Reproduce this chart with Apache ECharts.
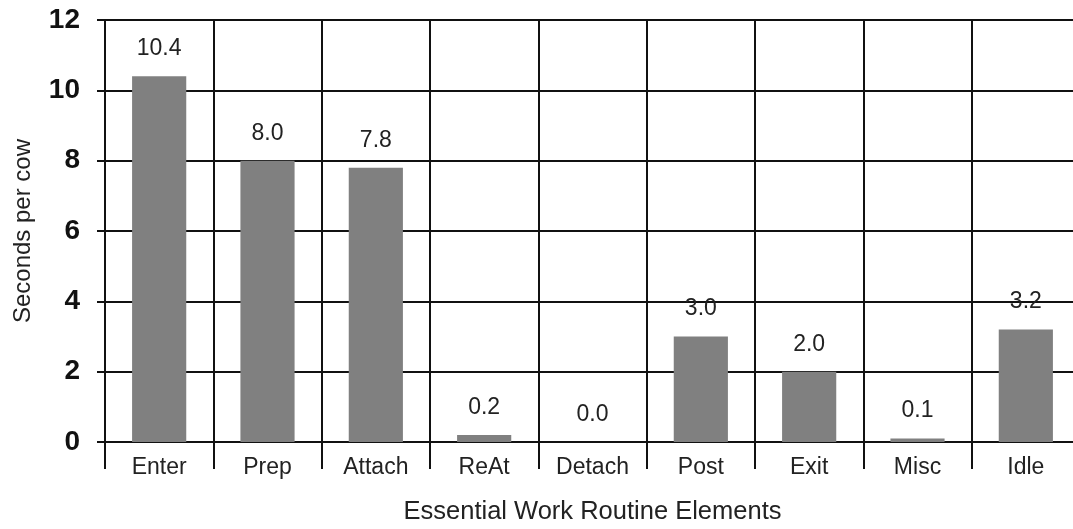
<!DOCTYPE html>
<html>
<head>
<meta charset="utf-8">
<script src="https://cdn.jsdelivr.net/npm/echarts@6/dist/echarts.min.js"></script>
<style>
  html, body { margin: 0; padding: 0; background: #fff; overflow: hidden; }
  #chart { width: 1073px; height: 529px; }
</style>
</head>
<body>
<div id="chart"></div>
<script>
// Average seconds per cow for each element of the milking routine
const categories = ['Enter', 'Prep', 'Attach', 'ReAt', 'Detach', 'Post', 'Exit', 'Misc', 'Idle'];
const secondsPerCow = [10.4, 8.0, 7.8, 0.2, 0.0, 3.0, 2.0, 0.1, 3.2];
const yTicks = [0, 2, 4, 6, 8, 10, 12];

const lineColor = '#111';
const fontFamily = 'Arial, "Liberation Sans", sans-serif';

const chart = echarts.init(document.getElementById('chart'), null, { renderer: 'canvas' });

chart.setOption({
  animation: false,
  backgroundColor: '#fff',
  // the plot runs a few pixels past the right edge of the canvas
  grid: { left: 105, top: 20, width: 975, height: 422, outerBoundsMode: 'none', containLabel: false },
  xAxis: {
    type: 'category',
    data: categories,
    boundaryGap: true,
    name: 'Essential Work Routine Elements',
    nameLocation: 'middle',
    nameGap: 57,
    nameTextStyle: { fontFamily, fontSize: 25.5, color: '#222' },
    axisLine: { show: true, lineStyle: { color: lineColor, width: 2 } },
    axisTick: { show: true, length: 27, lineStyle: { color: lineColor, width: 2 } },
    axisLabel: { fontFamily, fontSize: 23, color: '#222', margin: 14 },
    splitLine: { show: true, lineStyle: { color: lineColor, width: 2 } }
  },
  yAxis: {
    type: 'value',
    min: yTicks[0],
    max: yTicks[yTicks.length - 1],
    interval: yTicks[1] - yTicks[0],
    name: 'Seconds per cow',
    nameLocation: 'middle',
    nameGap: 70,
    nameTextStyle: { fontFamily, fontSize: 24, color: '#222' },
    axisLine: { show: true, lineStyle: { color: lineColor, width: 2 } },
    axisTick: { show: true, length: 8, lineStyle: { color: lineColor, width: 2 } },
    axisLabel: { fontFamily, fontSize: 28, fontWeight: 'bold', color: '#111', margin: 25 },
    splitLine: { show: true, lineStyle: { color: lineColor, width: 2 } }
  },
  series: [{
    type: 'bar',
    data: secondsPerCow,
    barWidth: '50%',
    itemStyle: { color: '#808080' },
    label: {
      show: true,
      position: 'top',
      distance: 16,
      fontFamily,
      fontSize: 23,
      color: '#222',
      formatter: p => p.value.toFixed(1)
    }
  }]
});
</script>
</body>
</html>
